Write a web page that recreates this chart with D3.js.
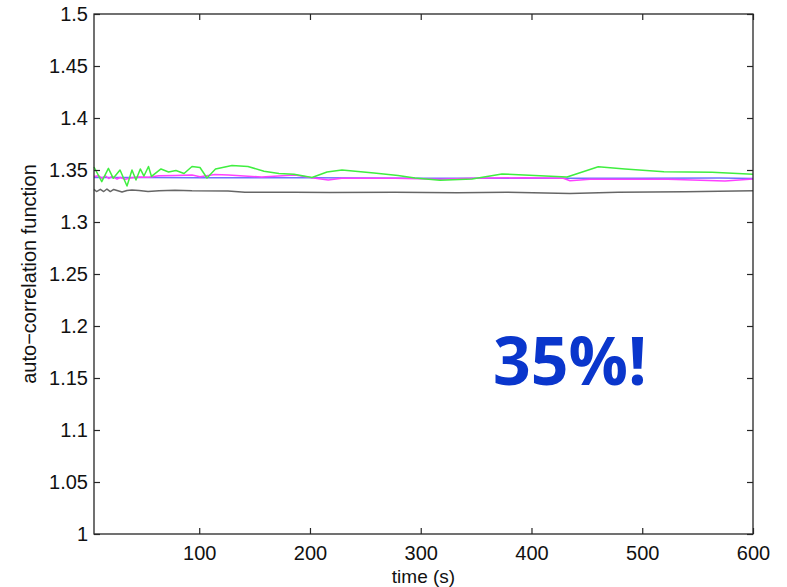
<!DOCTYPE html>
<html>
<head>
<meta charset="utf-8">
<script src="https://cdn.jsdelivr.net/npm/d3@7"></script>
<style>
  html, body { margin: 0; padding: 0; background: #fff; }
  svg { display: block; }
</style>
</head>
<body>
<svg id="chart" width="787" height="587"></svg>
<script>
// Auto-correlation traces over time (s)
const greenT = [5, 12, 18, 22.4, 28.5, 34.8, 39.3, 42.9, 46.8, 50.1, 54.2, 56.9, 65.5, 72.3, 79, 86.3, 93.5, 100.7, 107, 114.7, 129.6, 144, 158.5, 172, 185.6, 201.8, 215.4, 228.9, 257.8, 279.5, 294.8, 317.4, 346.3, 373.4, 407.7, 432.1, 460.3, 484.4, 519.6, 563, 600];
const greenV = [1.3529, 1.3388, 1.3516, 1.3420, 1.3500, 1.3346, 1.3500, 1.3404, 1.3510, 1.3442, 1.3534, 1.3438, 1.3510, 1.3481, 1.3495, 1.3466, 1.3534, 1.3524, 1.3423, 1.3510, 1.3543, 1.3534, 1.3488, 1.3466, 1.3460, 1.3428, 1.3481, 1.3500, 1.3471, 1.3447, 1.3423, 1.3401, 1.3413, 1.3462, 1.3444, 1.3433, 1.3532, 1.3510, 1.3484, 1.3478, 1.3460];

const blueT = [5, 50, 100, 200, 300, 400, 500, 570, 600];
const blueV = [1.3428, 1.3427, 1.3426, 1.3425, 1.3421, 1.3420, 1.3420, 1.3424, 1.3419];

const magentaT = [5, 9.2, 12.2, 15.2, 18.3, 21.3, 25.8, 28.7, 33.3, 37.5, 45.4, 54.4, 63.4, 78.4, 93.5, 100.7, 114.2, 126.3, 156.4, 186.5, 201.6, 216.5, 228.6, 276.8, 317.4, 347.5, 392.6, 428.7, 434.8, 452.8, 523.2, 574.7, 600];
const magentaV = [1.3438, 1.3445, 1.3420, 1.3445, 1.3418, 1.3438, 1.3413, 1.3428, 1.3411, 1.3423, 1.3433, 1.3430, 1.3445, 1.3447, 1.3452, 1.3436, 1.3457, 1.3452, 1.3433, 1.3452, 1.3426, 1.3404, 1.3420, 1.3420, 1.3411, 1.3420, 1.3426, 1.3420, 1.3397, 1.3411, 1.3411, 1.3394, 1.3413];

const grayT = [5, 7.3, 10.7, 13.8, 16.7, 19.7, 22.8, 25.8, 30.3, 34.8, 39.3, 45.6, 53.8, 63.7, 78.1, 93.5, 126, 141.3, 186.5, 218.1, 276.8, 332.7, 377.9, 434.8, 478.1, 538.6, 600];
const grayV = [1.3313, 1.3293, 1.3314, 1.3293, 1.3317, 1.3293, 1.3313, 1.3303, 1.3288, 1.3303, 1.3308, 1.3303, 1.3293, 1.3300, 1.3305, 1.3300, 1.3298, 1.3287, 1.3286, 1.3283, 1.3286, 1.3282, 1.3286, 1.3273, 1.3286, 1.3291, 1.3301];

const xTicks = [100, 200, 300, 400, 500, 600];
const yTicks = [1, 1.05, 1.1, 1.15, 1.2, 1.25, 1.3, 1.35, 1.4, 1.45, 1.5];

const xLabel = "time (s)";
const yLabel = "auto\u2212correlation function";
const note = "35%!";

const margin = { left: 94, right: 34, top: 14, bottom: 53 };
const W = 787, H = 587;
const svg = d3.select("#chart");

const x = d3.scaleLinear().domain([5, 600]).range([margin.left, W - margin.right]);
const y = d3.scaleLinear().domain([1, 1.5]).range([H - margin.bottom, margin.top]);

const axisColor = "#262626";
const tickFont = "Liberation Sans, Arial, sans-serif";

// Traces
const series = [
  { t: blueT, v: blueV, color: "#7070ff" },
  { t: magentaT, v: magentaV, color: "#ff40ff" },
  { t: greenT, v: greenV, color: "#40ee40" },
  { t: grayT, v: grayV, color: "#666666" }
];
const line = d3.line().x(d => x(d[0])).y(d => y(d[1]));
series.forEach(s => {
  svg.append("path")
    .datum(s.t.map((t, i) => [t, s.v[i]]))
    .attr("fill", "none")
    .attr("stroke", s.color)
    .attr("stroke-width", 1.5)
    .attr("stroke-linejoin", "round")
    .attr("d", line);
});

// Axes with inward ticks on all four sides
const tickLen = 6;
const styleAxis = g => {
  g.select(".domain").remove();
  g.selectAll(".tick line").attr("stroke", axisColor).attr("stroke-width", 1.2);
  g.selectAll("text").attr("fill", "#111").style("font-family", tickFont).style("font-size", "20px");
};

svg.append("g")
  .attr("transform", `translate(0,${y(1)})`)
  .call(d3.axisBottom(x).tickValues(xTicks).tickFormat(d3.format("d")).tickSizeInner(-tickLen).tickSizeOuter(0).tickPadding(12))
  .call(styleAxis);

svg.append("g")
  .attr("transform", `translate(0,${y(1.5)})`)
  .call(d3.axisTop(x).tickValues(xTicks).tickFormat("").tickSizeInner(-tickLen).tickSizeOuter(0))
  .call(styleAxis);

svg.append("g")
  .attr("transform", `translate(${x(5)},0)`)
  .call(d3.axisLeft(y).tickValues(yTicks).tickFormat(d => d3.format("")(+d.toFixed(2))).tickSizeInner(-tickLen).tickSizeOuter(0).tickPadding(6))
  .call(styleAxis);

svg.append("g")
  .attr("transform", `translate(${x(600)},0)`)
  .call(d3.axisRight(y).tickValues(yTicks).tickFormat("").tickSizeInner(-tickLen).tickSizeOuter(0))
  .call(styleAxis);

// Box
svg.append("rect")
  .attr("x", x(5)).attr("y", y(1.5))
  .attr("width", x(600) - x(5)).attr("height", y(1) - y(1.5))
  .attr("fill", "none").attr("stroke", axisColor).attr("stroke-width", 1.3);

// Axis titles
svg.append("text")
  .attr("x", (x(5) + x(600)) / 2).attr("y", 583)
  .attr("text-anchor", "middle")
  .style("font-family", tickFont).style("font-size", "19px").attr("fill", "#111")
  .text(xLabel);

svg.append("text")
  .attr("transform", `translate(36,${(y(1) + y(1.5)) / 2}) rotate(-90)`)
  .attr("text-anchor", "middle")
  .style("font-family", tickFont).style("font-size", "20px").attr("fill", "#111")
  .text(yLabel);

// Annotation
svg.append("text")
  .attr("x", 570).attr("y", 385)
  .attr("text-anchor", "middle")
  .style("font-family", "Open Sans, Noto Sans, sans-serif").style("font-weight", "700").style("font-size", "66px")
  .attr("fill", "#0a36cc")
  .text(note);
</script>
</body>
</html>
